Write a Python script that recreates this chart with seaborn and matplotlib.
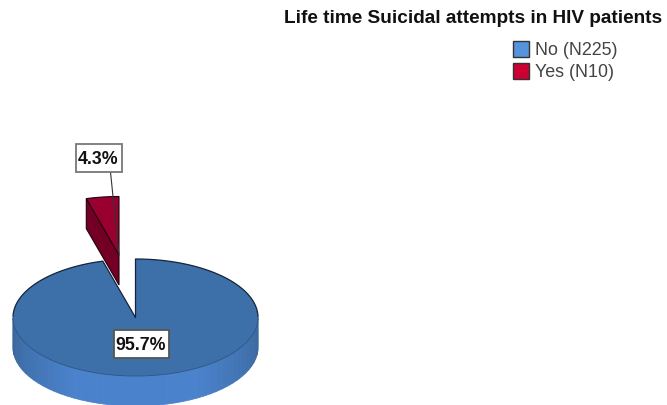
import numpy as np
import matplotlib
matplotlib.use("Agg")
import matplotlib.pyplot as plt
from matplotlib.patches import Polygon, Patch, Rectangle
import seaborn as sns

categories = ["No (N225)", "Yes (N10)"]
shares = [95.7, 4.3]
share_labels = ["95.7%", "4.3%"]
title_text = "Life time Suicidal attempts in HIV patients"

legend_colors = ["#5593DC", "#CC0033"]
top_colors = ["#3D6FA9", "#990030"]
wall_dark, wall_light = "#3A6699", "#4A82CC"
red_wall = "#730024"

sns.set_theme(style="white")
plt.rcParams["font.family"] = ["Liberation Sans", "DejaVu Sans"]

fig = plt.figure(figsize=(6.67, 4.05), dpi=100)
ax = fig.add_axes([0, 0, 1, 1])
ax.set_xlim(0, 667)
ax.set_ylim(405, 0)
ax.axis("off")

# Tilted pie geometry in canvas units
cx, cy, rx, ry, depth = 135.5, 317.5, 122.5, 58.5, 30
explode = (-16.5, -62.5)


def rim(theta_deg, ox=cx, oy=cy):
    """Point on the pie rim, angle measured clockwise from twelve o'clock."""
    t = np.radians(theta_deg)
    return ox + rx * np.sin(t), oy - ry * np.cos(t)


sweep_no = shares[0] / sum(shares) * 360

# Front wall of the large slice, shaded in narrow strips
strips = 48
wall_angles = np.linspace(90, 270, strips + 1)
wall_shades = sns.blend_palette([wall_dark, wall_light, wall_light, wall_dark], strips)
for a0, a1, shade in zip(wall_angles[:-1], wall_angles[1:], wall_shades):
    x0, y0 = rim(a0)
    x1, y1 = rim(a1)
    ax.add_patch(Polygon([(x0, y0), (x1, y1), (x1, y1 + depth), (x0, y0 + depth)],
                         facecolor=shade, edgecolor=shade, lw=0.6, zorder=1))

# Top face of the large slice; the rim line is strong at the back and faint in front
arc_no = np.linspace(0, sweep_no, 240)
xs, ys = rim(arc_no)
ax.add_patch(Polygon(np.vstack([[cx, cy], np.column_stack([xs, ys])]), closed=True,
                     facecolor=top_colors[0], edgecolor="none", zorder=2))
front = (arc_no >= 90) & (arc_no <= 270)
xb_right, yb_right = rim(arc_no[arc_no <= 90])
xb_left, yb_left = rim(arc_no[arc_no >= 270])
ax.plot(np.r_[cx, xb_right], np.r_[cy, yb_right], color="#14243C", lw=0.9, zorder=3)
ax.plot(np.r_[xb_left, cx], np.r_[yb_left, cy], color="#14243C", lw=0.9, zorder=3)
ax.plot(xs[front], ys[front], color="#2F5480", lw=0.6, zorder=3)

# Exploded small slice: cut wall first, then its top face
ox, oy = cx + explode[0], cy + explode[1]
arc_yes = np.linspace(sweep_no, 360, 30)
xr, yr = rim(arc_yes, ox, oy)
ax.add_patch(Polygon([(ox, oy), (xr[0], yr[0]), (xr[0], yr[0] + depth), (ox, oy + depth)],
                     facecolor=red_wall, edgecolor="#220010", lw=0.8, zorder=4))
ax.add_patch(Polygon(np.vstack([[ox, oy], np.column_stack([xr, yr])]), closed=True,
                     facecolor=top_colors[1], edgecolor="#220010", lw=0.8, zorder=5))

# Value labels in boxes, with a leader line to the small slice
ax.plot([110.5, ox], [172, oy], color="#333333", lw=0.8, zorder=6)
boxes = [(113.5, 329.5, 55, 28), (75.5, 143.5, 46, 28)]
box_edges = ["#555555", "#777777"]
for label, (bx, by, bw, bh), edge in zip(share_labels, boxes, box_edges):
    ax.add_patch(Rectangle((bx, by), bw, bh, facecolor="white", edgecolor=edge, lw=1.3, zorder=7))
    ax.text(bx + bw / 2, by + bh / 2 + 1.5, label, ha="center", va="center", fontsize=12.8,
            fontweight="bold", color="#111111", zorder=8)

ax.text(662, 18.5, title_text, ha="right", va="center", fontsize=13.7,
        fontweight="bold", color="#111111")

handles = [Patch(facecolor=c, edgecolor="#333333", lw=1.0) for c in legend_colors]
ax.legend(handles, categories, loc="upper left", bbox_to_anchor=(513 / 667, 1 - 41.5 / 405),
          frameon=False, fontsize=12.9, labelcolor="#444444", handlelength=0.9,
          handleheight=0.95, handletextpad=0.33, labelspacing=0.22,
          borderpad=0, borderaxespad=0)

fig.savefig("out.png", dpi=100, facecolor="white")
